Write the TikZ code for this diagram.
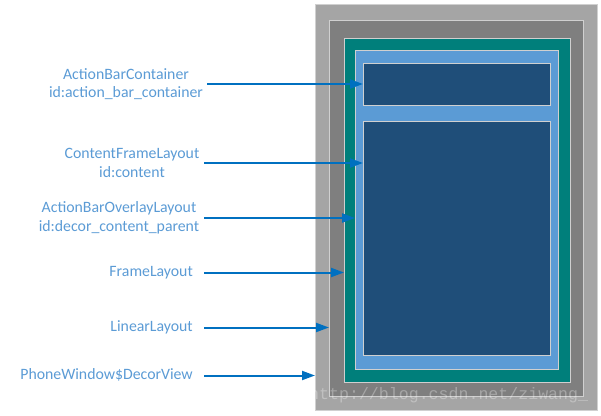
\documentclass[tikz,border=0pt]{standalone}
\usepackage{fontspec}
\setmainfont{Carlito}
\newfontfamily\wmfont{Liberation Mono}
\usetikzlibrary{arrows.meta}
\definecolor{outerg}{HTML}{A5A5A5}
\definecolor{darkg}{HTML}{7F7F7F}
\definecolor{tealc}{HTML}{007F7B}
\definecolor{lblue}{HTML}{5B9BD5}
\definecolor{dblue}{HTML}{1F4E79}
\definecolor{edgec}{HTML}{D0D0D0}
\definecolor{txt}{HTML}{5B9BD5}
\definecolor{arr}{HTML}{0070C0}
\begin{document}
\begin{tikzpicture}[x=1pt,y=-1pt,
  layer/.style={draw=edgec, line width=1pt, anchor=north west, inner sep=0pt, outer sep=0pt},
  lbl/.style={text=txt, font=\fontsize{15.8}{18.5}\selectfont, inner sep=0pt, align=center},
  ptr/.style={draw=arr, line width=2pt, -{Triangle[length=13pt,width=9pt]}}]
\useasboundingbox (0,0) rectangle (601,415);
% nested layers
\node[layer, fill=outerg, minimum width=282pt, minimum height=406pt] (decor) at (315,4) {};
\node[layer, fill=darkg, minimum width=254pt, minimum height=376pt] (linear) at (329,20) {};
\node[layer, fill=tealc, minimum width=226pt, minimum height=344pt] (frame) at (344,38) {};
\node[layer, fill=lblue, minimum width=203pt, minimum height=319pt] (overlay) at (355,50) {};
\node[layer, fill=dblue, minimum width=187pt, minimum height=42pt] (abc) at (363,63) {};
\node[layer, fill=dblue, minimum width=187pt, minimum height=234pt] (content) at (363,121) {};
% labels
\node[lbl] (l1) at (126,84) {ActionBarContainer\\id:action\_bar\_container};
\node[lbl] (l2) at (132,163) {ContentFrameLayout\\id:content};
\node[lbl] (l3) at (119,218) {ActionBarOverlayLayout\\id:decor\_content\_parent};
\node[lbl, anchor=east] (l4) at (193,272.5) {FrameLayout};
\node[lbl, anchor=east] (l5) at (193,327.5) {LinearLayout};
\node[lbl, anchor=east] (l6) at (193,375) {PhoneWindow\$DecorView};
% arrow start points
\coordinate (s1) at (207,84);
\coordinate (s2) at (204,163);
\coordinate (s3) at (204,218);
\coordinate (s4) at (204,272.5);
\coordinate (s5) at (204,327.5);
\coordinate (s6) at (204,375.5);
\draw[ptr] (s1) -- (s1 -| abc.west);
\draw[ptr] (s2) -- (s2 -| content.west);
\draw[ptr] (s3) -- (s3 -| overlay.west);
\draw[ptr] (s4) -- (s4 -| frame.west);
\draw[ptr] (s5) -- (s5 -| linear.west);
\draw[ptr] (s6) -- (s6 -| decor.west);
% watermark
\node[text=white, opacity=0.3, font=\wmfont\fontsize{16.6}{18}\selectfont, anchor=west, inner sep=0pt] (wm) at (309,395) {http://blog.csdn.net/ziwang\_};
\end{tikzpicture}
\end{document}
